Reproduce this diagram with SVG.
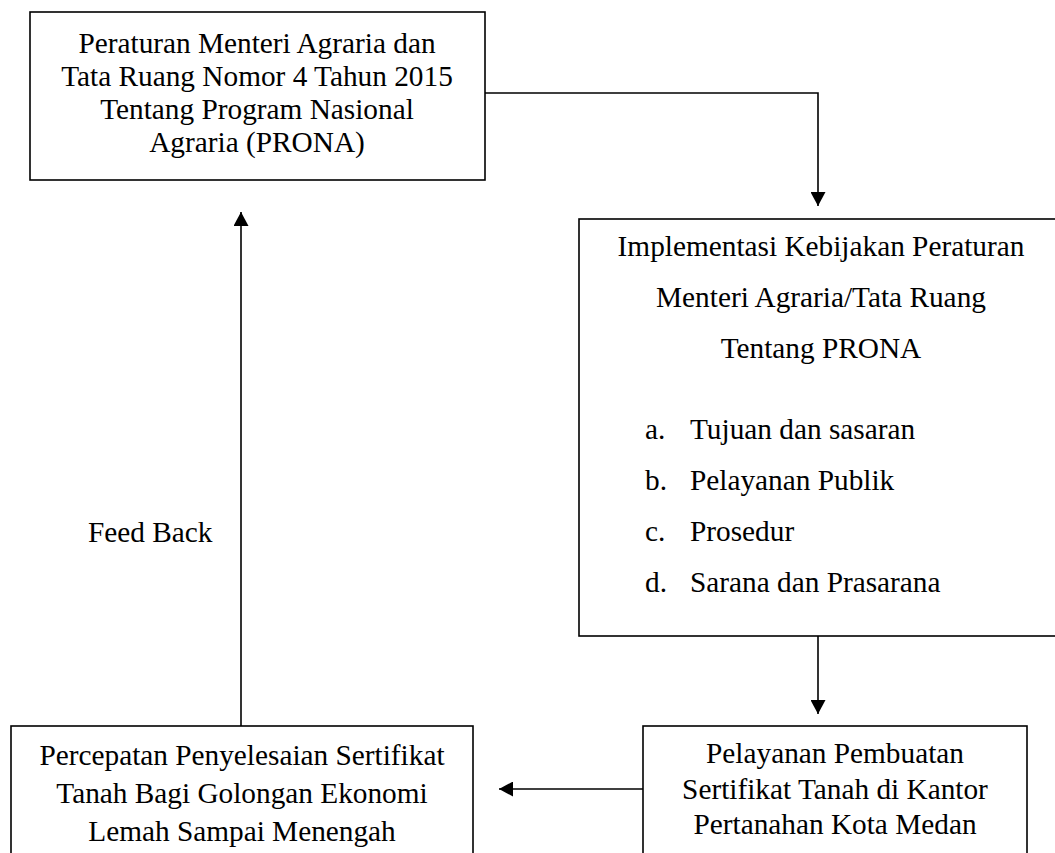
<svg xmlns="http://www.w3.org/2000/svg" width="1055" height="853" viewBox="0 0 1055 853">
<style>
.box{fill:#fff;stroke:#000;stroke-width:1.6}
.t{font-family:"Liberation Serif","Times New Roman",serif;font-size:29.3px;fill:#000}
.c{text-anchor:middle}
.ln{fill:none;stroke:#000;stroke-width:1.6}
</style>
<defs>
<marker id="ah" viewBox="0 0 14 15" refX="14" refY="7.5" markerWidth="14" markerHeight="15" markerUnits="userSpaceOnUse" orient="auto">
<path d="M0,0 L14,7.5 L0,15 z" fill="#000"/>
</marker>
</defs>
<rect width="1055" height="853" fill="#fff"/>
<g id="connectors">
<path class="ln" d="M485,93 H818 V206" marker-end="url(#ah)"/>
<path class="ln" d="M818,636 V714" marker-end="url(#ah)"/>
<path class="ln" d="M643,789 H499" marker-end="url(#ah)"/>
<path class="ln" d="M241,726 V212" marker-end="url(#ah)"/>
</g>
<g id="node-peraturan">
<rect class="box" x="30" y="12" width="455" height="168"/>
<text class="t c" x="257" y="53">Peraturan Menteri Agraria dan</text>
<text class="t c" x="257" y="86">Tata Ruang Nomor 4 Tahun 2015</text>
<text class="t c" x="257" y="119">Tentang Program Nasional</text>
<text class="t c" x="257" y="152">Agraria (PRONA)</text>
</g>
<g id="node-implementasi">
<rect class="box" x="579" y="219" width="480" height="417"/>
<text class="t c" x="821" y="256">Implementasi Kebijakan Peraturan</text>
<text class="t c" x="821" y="307">Menteri Agraria/Tata Ruang</text>
<text class="t c" x="821" y="358">Tentang PRONA</text>
<text class="t" x="645" y="438.5">a.</text><text class="t" x="690" y="438.5">Tujuan dan sasaran</text>
<text class="t" x="645" y="489.5">b.</text><text class="t" x="690" y="489.5">Pelayanan Publik</text>
<text class="t" x="645" y="540.5">c.</text><text class="t" x="690" y="540.5">Prosedur</text>
<text class="t" x="645" y="591.5">d.</text><text class="t" x="690" y="591.5">Sarana dan Prasarana</text>
</g>
<g id="node-pelayanan">
<rect class="box" x="643" y="726" width="384" height="140"/>
<text class="t c" x="835" y="763">Pelayanan Pembuatan</text>
<text class="t c" x="835" y="798.5">Sertifikat Tanah di Kantor</text>
<text class="t c" x="835" y="834">Pertanahan Kota Medan</text>
</g>
<g id="node-percepatan">
<rect class="box" x="11" y="726" width="462" height="140"/>
<text class="t c" x="242" y="765">Percepatan Penyelesaian Sertifikat</text>
<text class="t c" x="242" y="803">Tanah Bagi Golongan Ekonomi</text>
<text class="t c" x="242" y="841">Lemah Sampai Menengah</text>
</g>
<g id="label-feedback">
<text class="t" x="88" y="542">Feed Back</text>
</g>
</svg>
